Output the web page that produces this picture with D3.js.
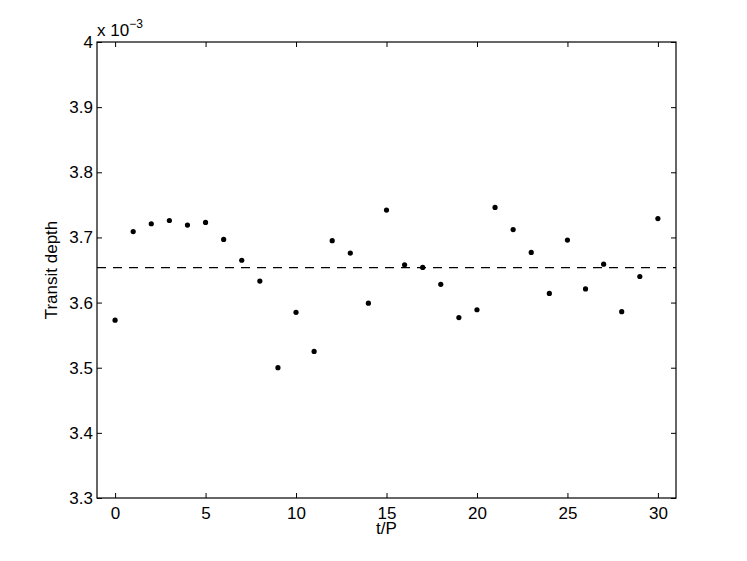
<!DOCTYPE html>
<html>
<head>
<meta charset="utf-8">
<script src="https://cdn.jsdelivr.net/npm/d3@7"></script>
<style>
  body { margin: 0; background: #fff; }
  svg text { font-family: "Liberation Sans", Arial, sans-serif; fill: #000; }
</style>
</head>
<body>
<svg width="747" height="561"></svg>
<script>
// transit depth per epoch (units of 1e-3)
const epochs = d3.range(0, 31);
const depths = [3.573, 3.709, 3.721, 3.726, 3.719, 3.723, 3.697, 3.665, 3.633, 3.500,
                3.585, 3.525, 3.695, 3.676, 3.599, 3.742, 3.658, 3.654, 3.628, 3.577,
                3.589, 3.746, 3.712, 3.677, 3.614, 3.696, 3.621, 3.659, 3.586, 3.640,
                3.729];
const meanDepth = 3.6535;
const xTicks = [0, 5, 10, 15, 20, 25, 30];
const yTicks = [3.3, 3.4, 3.5, 3.6, 3.7, 3.8, 3.9, 4.0];

const margin = {top: 42, right: 71, bottom: 63, left: 97};
const width = 747, height = 561;
const svg = d3.select('svg');

const x = d3.scaleLinear().domain([-1, 31]).range([margin.left, width - margin.right]);
const y = d3.scaleLinear().domain([3.3, 4.0]).range([height - margin.bottom, margin.top]);

const tickLen = 5;
const fs = 17;
const fmt = d => (d === 4 ? '4' : d3.format('.1f')(d));

// axes with inward ticks
svg.append('g')
  .attr('transform', `translate(0,${y(3.3)})`)
  .call(d3.axisBottom(x).tickValues(xTicks).tickSizeInner(-tickLen).tickSizeOuter(0).tickPadding(8.5))
  .call(g => g.select('.domain').remove());
svg.append('g')
  .attr('transform', `translate(0,${y(4.0)})`)
  .call(d3.axisTop(x).tickValues(xTicks).tickSizeInner(-tickLen).tickSizeOuter(0).tickFormat(''))
  .call(g => g.select('.domain').remove());
svg.append('g')
  .attr('transform', `translate(${x(-1)},0)`)
  .call(d3.axisLeft(y).tickValues(yTicks).tickSizeInner(-tickLen).tickSizeOuter(0).tickPadding(4).tickFormat(fmt))
  .call(g => g.select('.domain').remove());
svg.append('g')
  .attr('transform', `translate(${x(31)},0)`)
  .call(d3.axisRight(y).tickValues(yTicks).tickSizeInner(-tickLen).tickSizeOuter(0).tickFormat(''))
  .call(g => g.select('.domain').remove());

svg.selectAll('.tick text').attr('font-size', fs).attr('font-family', '"Liberation Sans", Arial, sans-serif');
svg.selectAll('.tick line').attr('stroke', '#000');

svg.append('rect')
  .attr('x', x(-1)).attr('y', y(4.0))
  .attr('width', x(31) - x(-1)).attr('height', y(3.3) - y(4.0))
  .attr('fill', 'none').attr('stroke', '#000').attr('stroke-width', 1.2);

// mean line
svg.append('line')
  .attr('x1', x(-1)).attr('x2', x(31))
  .attr('y1', y(meanDepth)).attr('y2', y(meanDepth))
  .attr('stroke', '#000').attr('stroke-width', 1.2)
  .attr('stroke-dasharray', '9,7');

svg.selectAll('.dot')
  .data(epochs)
  .enter()
  .append('circle')
  .attr('cx', d => x(d))
  .attr('cy', (d, i) => y(depths[i]))
  .attr('r', 2.6)
  .attr('fill', '#000');

// labels
svg.append('text')
  .attr('x', (x(-1) + x(31)) / 2).attr('y', 533.5)
  .attr('text-anchor', 'middle').attr('font-size', fs)
  .text('t/P');
svg.append('text')
  .attr('transform', `translate(57,${(y(3.3) + y(4.0)) / 2}) rotate(-90)`)
  .attr('text-anchor', 'middle').attr('font-size', fs)
  .text('Transit depth');

const expo = svg.append('text').attr('x', 97).attr('y', 35.5).attr('font-size', fs);
expo.append('tspan').text('x 10');
expo.append('tspan').attr('dy', -8).attr('font-size', 12).text('−3');
</script>
</body>
</html>
